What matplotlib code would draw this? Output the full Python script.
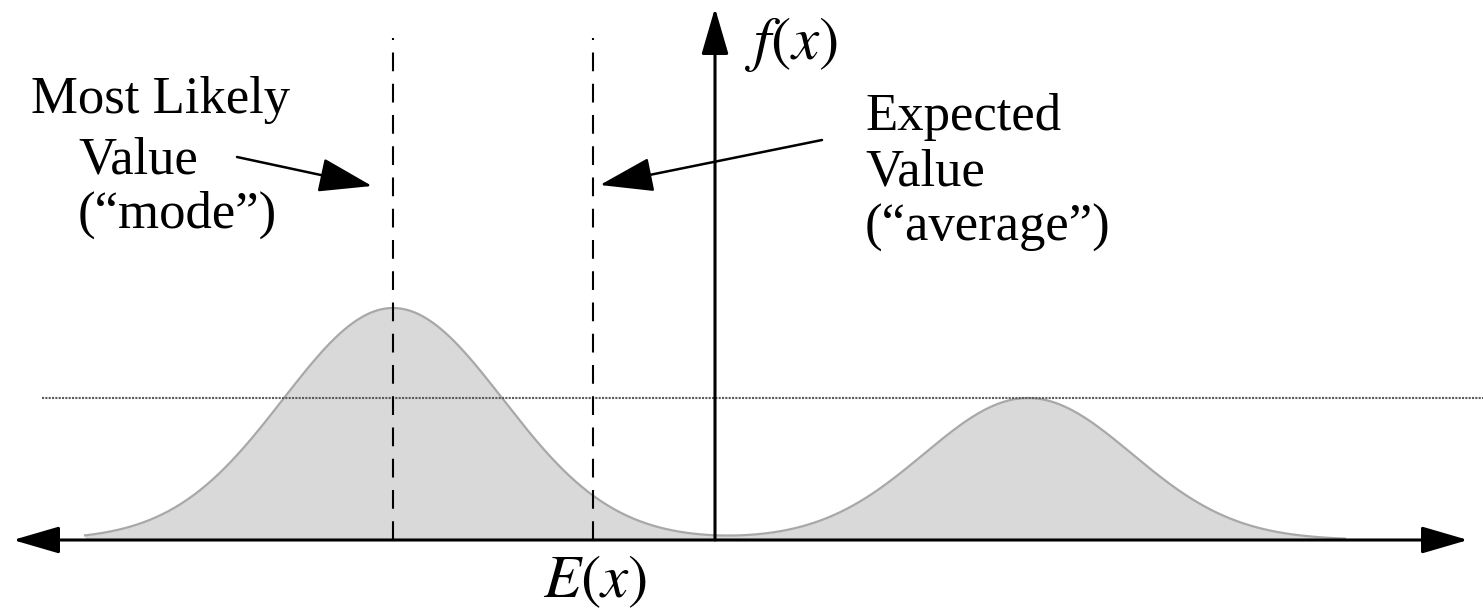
import numpy as np
import matplotlib.pyplot as plt

# bimodal density, drawn in pixel-like units with origin at the f(x) axis
peak_x = [-322, 313]
peak_h = [232, 142]
spread = [110, 104]
mode_x = -322
mean_x = -122
ref_level = 142

left_lines = ["Most Likely", "Value", "(\u201cmode\u201d)"]
right_lines = ["Expected", "Value", "(\u201caverage\u201d)"]

plt.rcParams["font.family"] = ["Liberation Serif", "DejaVu Serif"]
plt.rcParams["mathtext.fontset"] = "stix"

fig = plt.figure(figsize=(14.83, 6.12), dpi=100)
ax = fig.add_axes([0, 0, 1, 1])
ax.set_xlim(-715, 768)
ax.set_ylim(-72, 540)
ax.axis("off")

x = np.linspace(-630, 630, 800)
y = np.zeros_like(x)
for c, h, s in zip(peak_x, peak_h, spread):
    y += h * np.exp(-((x - c) ** 2) / (2 * s**2))
ax.fill_between(x, 0, y, color="#d9d9d9", lw=0, zorder=1)
ax.plot(x, y, color="#a8a8a8", lw=1.6, zorder=2)

# reference level through the second peak
ax.plot([-673, 768], [ref_level, ref_level], color="#5a5a5a", lw=1.5, ls=(0, (1, 0.6)), zorder=2)

# mode and mean markers
for xv in (mode_x, mean_x):
    ax.plot([xv, xv], [0, 502], color="black", lw=1.5, ls=(0, (9, 6)), zorder=3)

# axes with arrowheads
ax.annotate("", xy=(753, 0), xytext=(-702, 0),
            arrowprops=dict(arrowstyle="<|-|>,head_length=1.2,head_width=0.35",
                            mutation_scale=24, lw=2.2, color="black", shrinkA=0, shrinkB=0),
            zorder=4)
ax.annotate("", xy=(0, 532), xytext=(0, 0),
            arrowprops=dict(arrowstyle="-|>,head_length=1.2,head_width=0.35",
                            mutation_scale=24, lw=2.2, color="black", shrinkA=0, shrinkB=0),
            zorder=4)

ax.text(30, 495, "$f(x)$", fontsize=44, ha="left", va="center")
ax.text(-120, -42, "$E(x)$", fontsize=44, ha="center", va="center")

fs = 38
for (tx, ty), s in zip([(-554, 440), (-577, 380), (-538, 325)], left_lines):
    ax.text(tx, ty, s, fontsize=fs, ha="center", va="center")
for ty, s in zip([423, 367, 312], right_lines):
    ax.text(150, ty, s, fontsize=fs, ha="left", va="center")

arrow = dict(arrowstyle="-|>,head_length=1.4,head_width=0.45",
             mutation_scale=24, lw=1.8, color="black", shrinkA=0, shrinkB=0)
ax.annotate("", xy=(-343, 354), xytext=(-478, 383), arrowprops=arrow)
ax.annotate("", xy=(-115, 355), xytext=(107, 400), arrowprops=arrow)

fig.savefig("out.png", dpi=100)
